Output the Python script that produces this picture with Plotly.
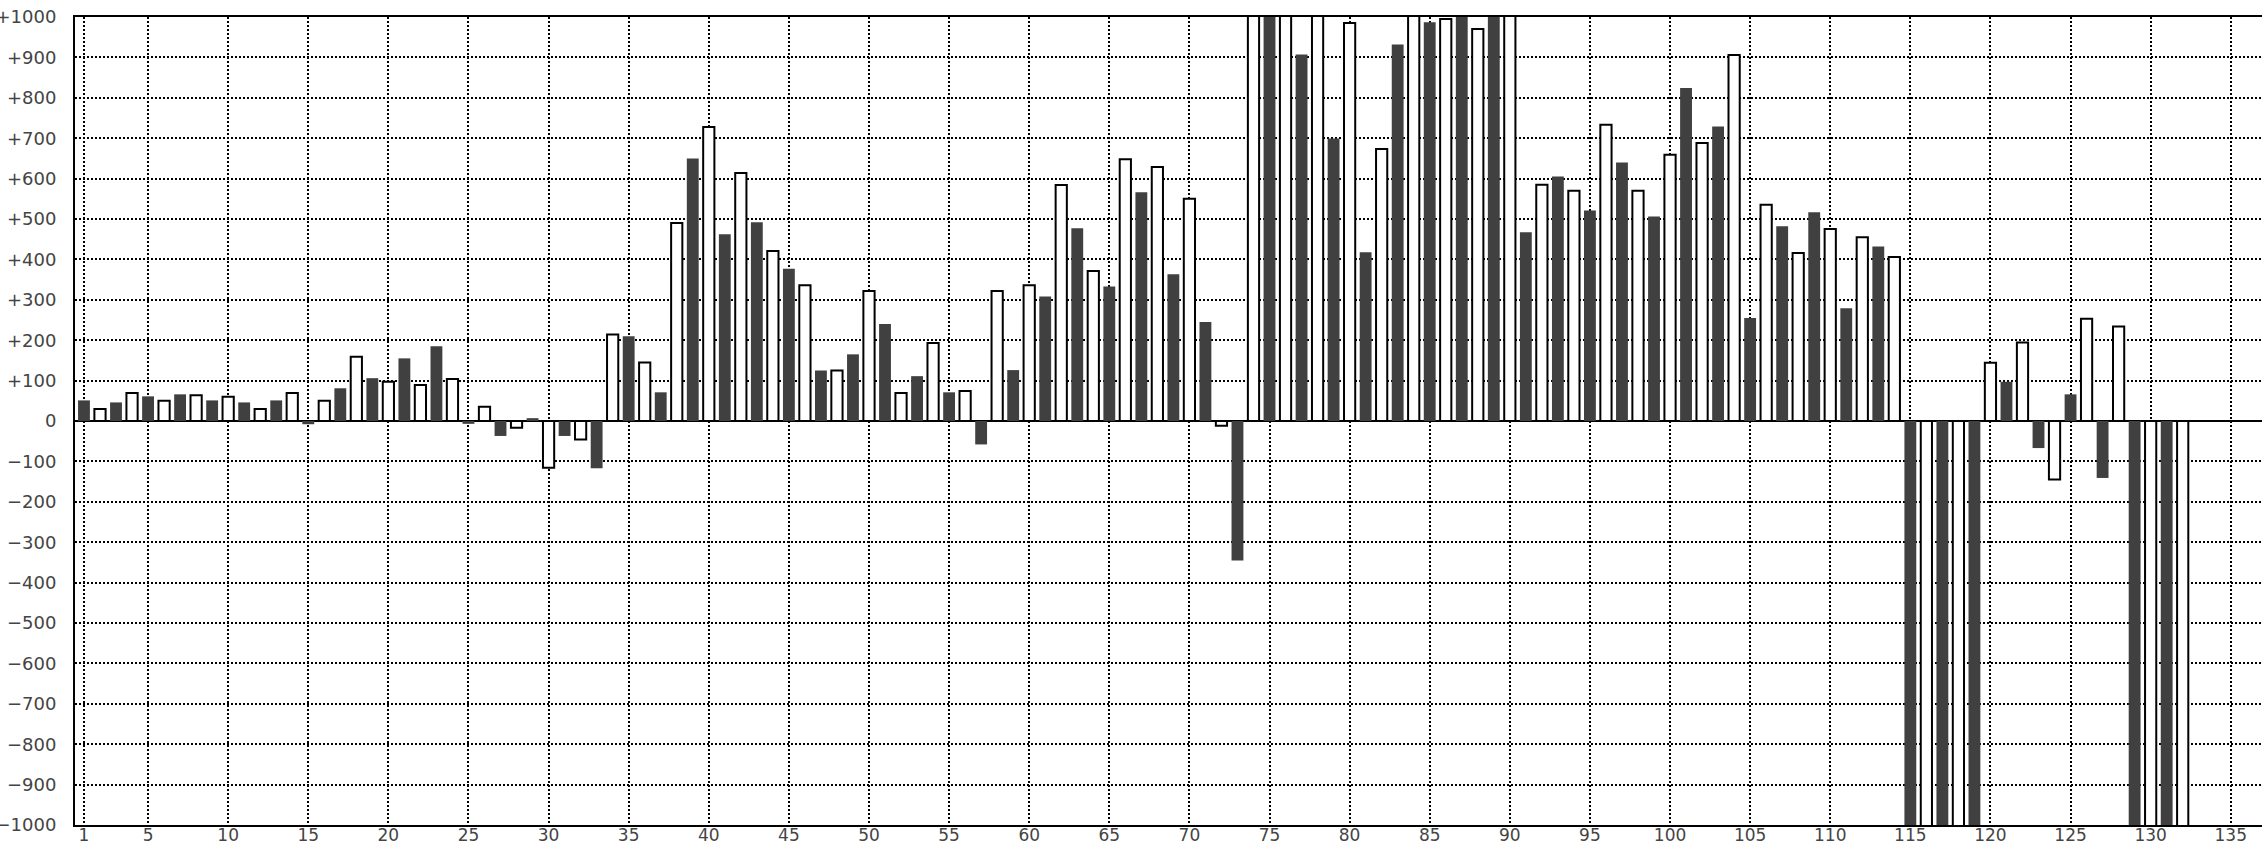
import plotly.graph_objects as go

# Category positions (1..132) and their values
x_values = list(range(1, 133))
values = [
    51, 30, 46, 69, 61, 50, 66, 64, 51, 60,
    46, 30, 51, 69, -8, 50, 81, 159, 106, 97,
    155, 89, 185, 104, -7, 35, -37, -17, 7, -116,
    -37, -46, -117, 214, 210, 145, 71, 490, 650, 728,
    462, 614, 492, 421, 377, 336, 125, 125, 165, 322,
    240, 69, 111, 193, 71, 74, -58, 322, 126, 336,
    308, 584, 477, 371, 333, 648, 566, 629, 363, 550,
    245, -12, -345, 1100, 1100, 1100, 907, 1100, 699, 985,
    418, 673, 932, 1100, 987, 995, 1100, 970, 1100, 1100,
    467, 585, 605, 570, 521, 733, 640, 570, 506, 659,
    824, 688, 729, 906, 255, 535, 482, 416, 517, 475,
    279, 455, 432, 406, -1100, -1100, -1100, -1100, -1100, 144,
    97, 194, -67, -145, 66, 253, -141, 234, -1100, -1100,
    -1100, -1100,
]

x_tick_values = [1] + list(range(5, 136, 5))
x_tick_labels = [str(v) for v in x_tick_values]
y_tick_values = list(range(-1000, 1001, 100))
y_tick_labels = [("+" + str(v)) if v > 0 else (("\u2212" + str(-v)) if v < 0 else "0") for v in y_tick_values]

dark_x = [x for x in x_values if x % 2 == 1]
dark_y = [v for x, v in zip(x_values, values) if x % 2 == 1]
light_x = [x for x in x_values if x % 2 == 0]
light_y = [v for x, v in zip(x_values, values) if x % 2 == 0]

fig = go.Figure()
fig.add_trace(go.Bar(
    x=dark_x, y=dark_y, width=0.74,
    marker=dict(color="#404040", line=dict(width=0)),
    showlegend=False,
))
fig.add_trace(go.Bar(
    x=light_x, y=light_y, width=0.70,
    marker=dict(color="#ffffff", line=dict(color="#000000", width=2)),
    showlegend=False,
))

yfont = dict(family="DejaVu Sans", size=18, color="#444444")
xfont = dict(family="DejaVu Sans", size=17, color="#444444")

fig.update_layout(
    width=2262, height=846,
    margin=dict(l=75, r=0, t=17, b=21, autoexpand=False),
    paper_bgcolor="white", plot_bgcolor="white",
    barmode="overlay",
    font=yfont,
    xaxis=dict(
        range=[0.44, 136.95], automargin=False,
        tickmode="array", tickvals=x_tick_values, ticktext=x_tick_labels,
        ticks="", showgrid=True, gridcolor="#000000", gridwidth=2, griddash="2px,2px",
        showline=True, linecolor="#000000", linewidth=2, mirror=True,
        zeroline=False, tickfont=xfont, ticklabelstandoff=-6,
    ),
    yaxis=dict(
        range=[-1000, 1000], automargin=False,
        tickmode="array", tickvals=y_tick_values, ticktext=y_tick_labels,
        ticks="", showgrid=True, gridcolor="#000000", gridwidth=2, griddash="2px,2px",
        showline=True, linecolor="#000000", linewidth=2, mirror=False,
        zeroline=True, zerolinecolor="#000000", zerolinewidth=2,
        tickfont=yfont, ticklabelstandoff=13,
    ),
)

fig.write_html(
    "out.html",
    config={"displayModeBar": False},
    post_script="document.body.style.margin='0px';document.body.style.overflow='hidden';",
)
